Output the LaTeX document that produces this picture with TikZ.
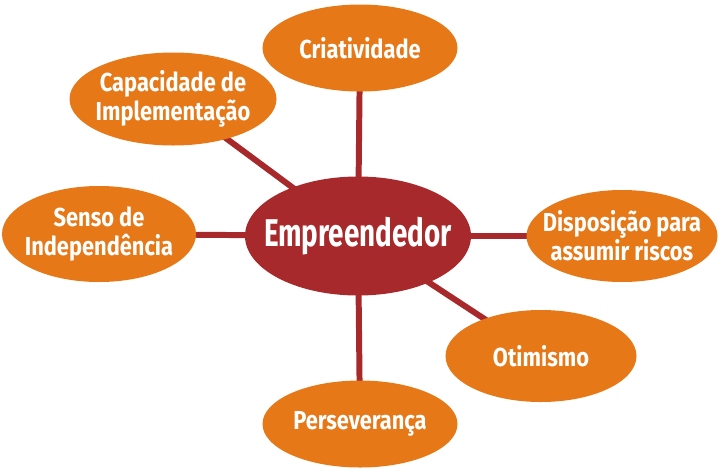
\documentclass[tikz,border=0pt]{standalone}
\usepackage{fontspec}
\setmainfont{Fira Sans}
\newfontfamily\traitfont{Fira Sans}[FakeStretch=0.84]
\newfontfamily\centerfont{Fira Sans}[FakeStretch=0.72]
\usetikzlibrary{shapes.geometric}
\usetikzlibrary{backgrounds}
\definecolor{centerred}{RGB}{168,41,43}
\definecolor{traitorange}{RGB}{230,120,23}
\tikzset{
    Trait/.style={ellipse,fill=traitorange,inner sep=0pt},
    TraitText/.style={text=white,inner sep=0pt,font=\traitfont\bfseries\fontsize{14.8}{16.6}\selectfont,align=center},
    Link/.style={draw=centerred,line width=3.4pt}
}

\begin{document}
\begin{tikzpicture}[x=0.02cm,y=-0.02cm]
            \useasboundingbox (0,0) rectangle (720,471);

            \node[ellipse,fill=centerred,inner sep=0pt,minimum width=226*0.02cm,minimum height=119*0.02cm] (emp) at (358,236) {};
            \node[text=white,inner sep=0pt,font=\centerfont\bfseries\fontsize{22}{26}\selectfont] (emptext) at (emp.center) {Empreendedor};

            \node[Trait,minimum width=195*0.02cm,minimum height=87*0.02cm] (cria) at (360,48) {};
            \node[Trait,minimum width=207*0.02cm,minimum height=93*0.02cm] (capa) at (173,99) {};
            \node[Trait,minimum width=194*0.02cm,minimum height=96*0.02cm] (senso) at (99,234) {};
            \node[Trait,minimum width=191*0.02cm,minimum height=92*0.02cm] (disp) at (622,236) {};
            \node[Trait,minimum width=191*0.02cm,minimum height=92*0.02cm] (otim) at (541,356) {};
            \node[Trait,minimum width=195*0.02cm,minimum height=87*0.02cm] (pers) at (360,424) {};

            \node[TraitText] (criatext) at (cria.center) {Criatividade};
            \node[TraitText] (capatext) at (capa.center) {Capacidade de\\Implementação};
            \node[TraitText] (sensotext) at (senso.center) {Senso de\\Independência};
            \node[TraitText] (disptext) at (disp.center) {Disposição para\\assumir riscos};
            \node[TraitText] (otimtext) at (otim.center) {Otimismo};
            \node[TraitText] (perstext) at (pers.center) {Perseverança};

            \begin{scope}[on background layer]
                \draw[Link] (emp.center) -- (cria.center);
                \draw[Link] (emp.center) -- (capa.center);
                \draw[Link] (emp.center) -- (senso.center);
                \draw[Link] (emp.center) -- (disp.center);
                \draw[Link] (emp.center) -- (otim.center);
                \draw[Link] (emp.center) -- (pers.center);
            \end{scope}
        \end{tikzpicture}
\end{document}
